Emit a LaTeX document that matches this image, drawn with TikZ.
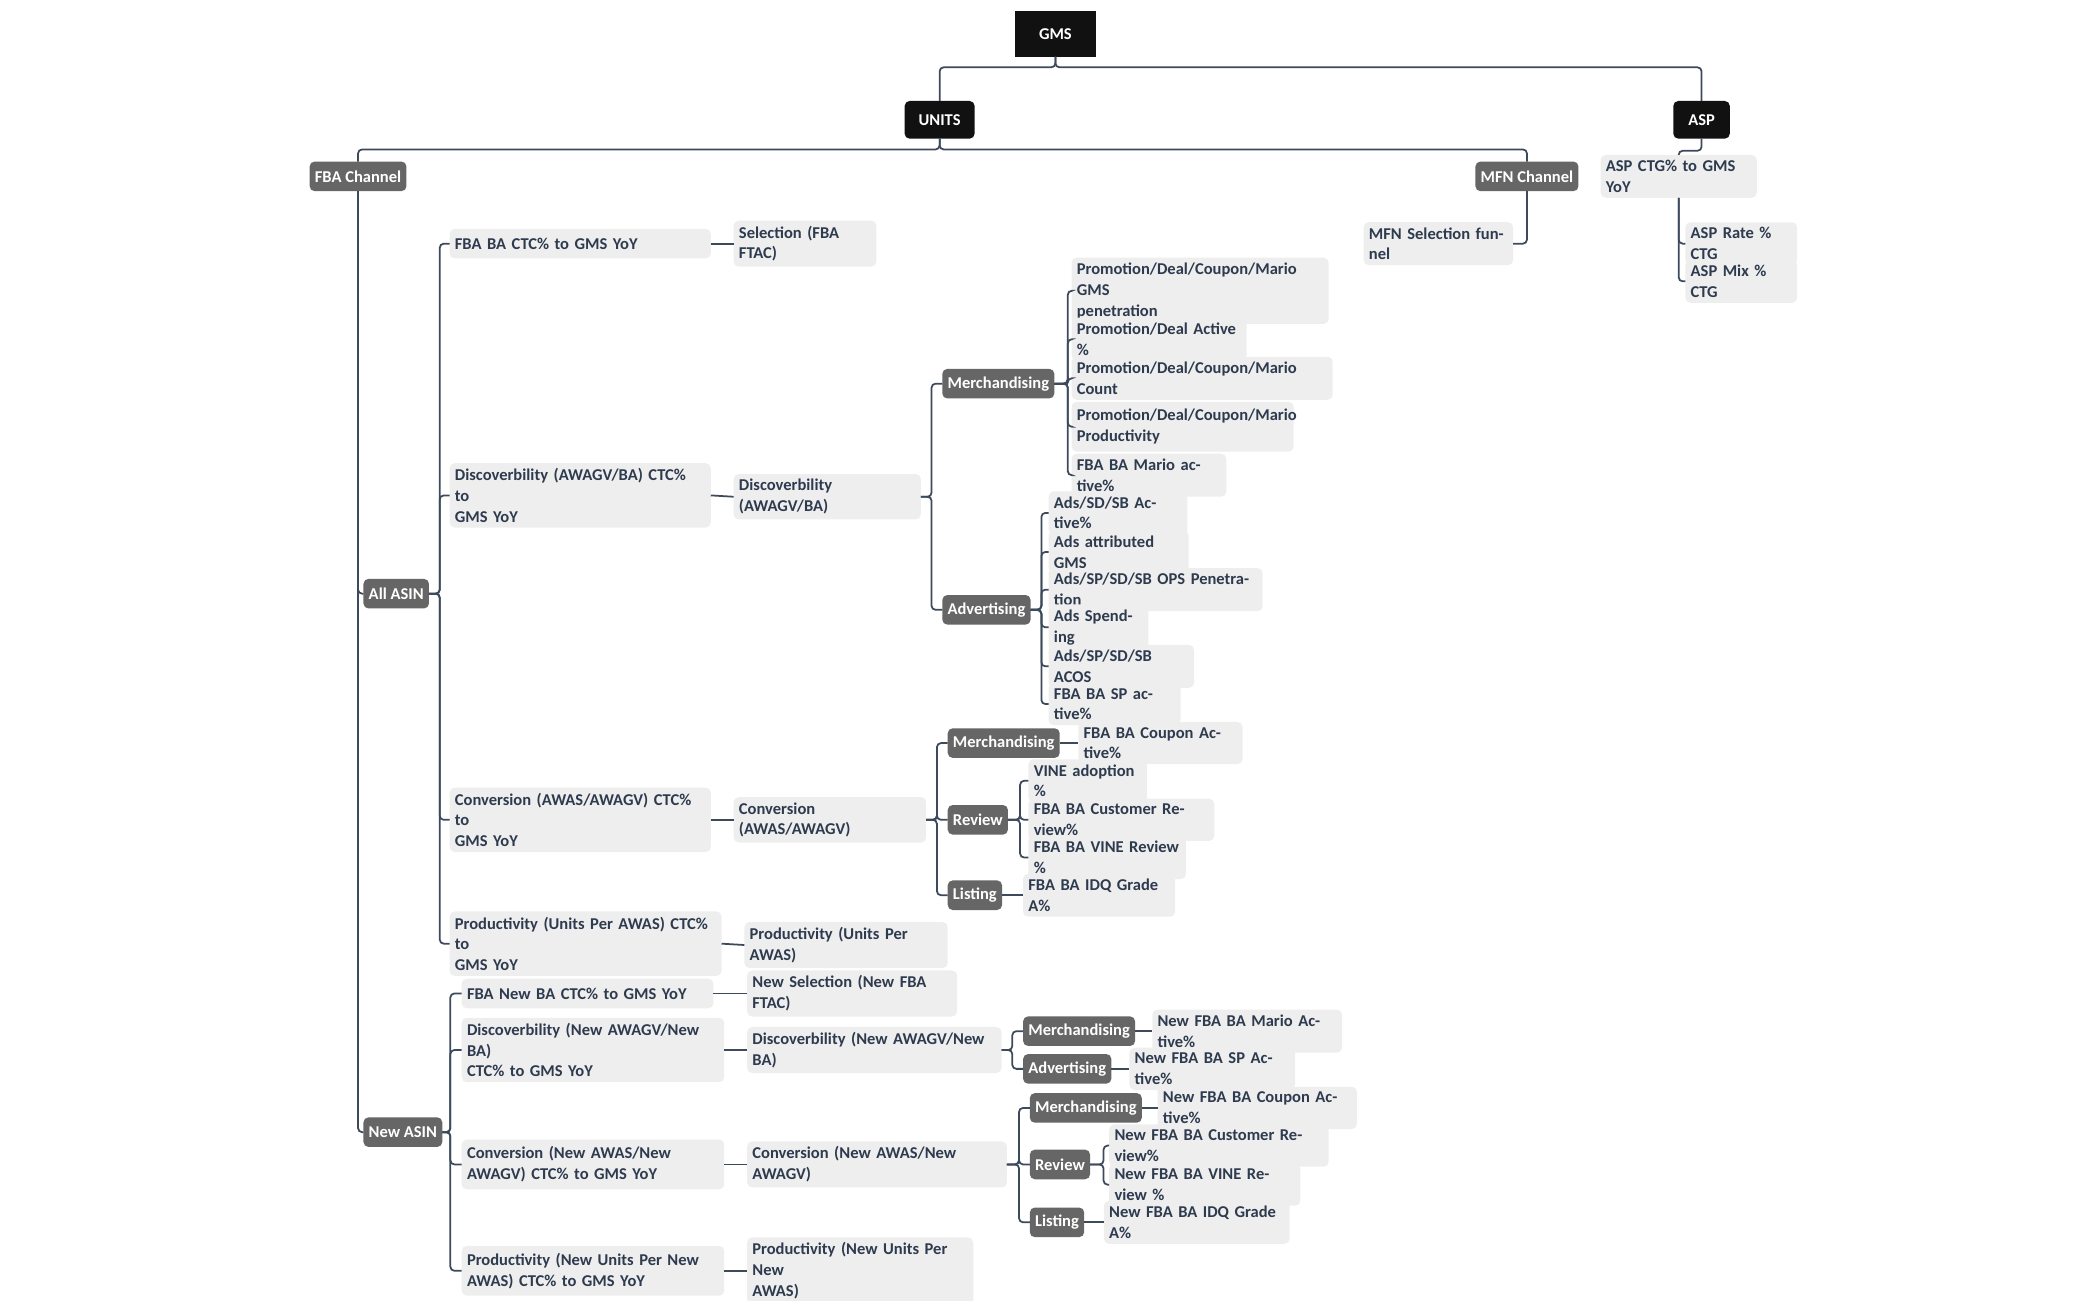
\documentclass[tikz,border=0pt]{standalone}
\usepackage{fontspec}
\setmainfont{Carlito}
\usetikzlibrary{positioning}
\definecolor{inkdark}{HTML}{111111}
\definecolor{inkmid}{HTML}{666666}
\definecolor{paper}{HTML}{EEEEEE}
\definecolor{txt}{HTML}{2E3B4E}
\definecolor{wire}{HTML}{3D4A5C}
\def\px{0.01346cm}
\tikzset{
  base/.style={inner sep=1.5pt, outer sep=0pt, font=\bfseries\fontsize{4.7}{5.9}\selectfont, minimum height=22*\px, anchor=west, align=left},
  root/.style={base, fill=inkdark, text=white, anchor=center},
  top/.style={root, rounded corners=0.05cm},
  mid/.style={base, fill=inkmid, text=white, rounded corners=0.05cm},
  leaf/.style={base, fill=paper, text=txt, rounded corners=0.05cm, text width=#1*\px-3pt},
  leaf/.default=100,
  link/.style={draw=wire, line width=0.5pt, rounded corners=0.04cm}
}
\begin{document}
\begin{tikzpicture}[x=\px, y=-\px]
  \useasboundingbox (0,0) rectangle (1560,966);

  % --- top levels ---
  \node[root, minimum width=60*\px, minimum height=34*\px] (gms) at (784,25) {GMS};
  \node[top, minimum width=52*\px, minimum height=28*\px] (units) at (698,89) {UNITS};
  \node[top, minimum width=42*\px, minimum height=28*\px] (asp) at (1264,89) {ASP};
  \draw[link] (gms.south) -- ++(0,8) -| (units.north);
  \draw[link] (gms.south) -- ++(0,8) -| (asp.north);

  \node[mid] (fba) at (230,131) {FBA Channel};
  \node[mid] (mfn) at (1096,131) {MFN Channel};
  \node[leaf=116] (aspctg) at (1189,131) {ASP CTG\% to GMS YoY};
  \draw[link] (units.south) -- ++(0,8) -| (fba.north);
  \draw[link] (units.south) -- ++(0,8) -| (mfn.north);
  \draw[link] (asp.south) -- ++(0,9) -| (aspctg.north);

  % --- ASP / MFN ---
  \node[leaf=83] (aspr) at (1252,181) {ASP Rate \% CTG};
  \node[leaf=83] (aspm) at (1252,209) {ASP Mix \% CTG};
  \foreach \c in {aspr,aspm} \draw[link] (aspctg.south) |- (\c.west);
  \node[leaf=111] (mfnsel) at (1013,181) {MFN Selection funnel};
  \draw[link] (mfn.south) |- (mfnsel.east);

  % --- FBA channel ---
  \node[mid] (all) at (270,441) {All ASIN};
  \node[mid] (new) at (270,841) {New ASIN};
  \foreach \c in {all,new} \draw[link] (fba.south) |- (\c.west);

  % All ASIN
  \node[leaf=194] (a1) at (334,181) {FBA BA CTC\% to GMS YoY};
  \node[leaf=194, minimum height=37*\px] (a2) at (334,368) {Discoverbility (AWAGV/BA) CTC\% to\\GMS YoY};
  \node[leaf=194, minimum height=37*\px] (a3) at (334,609) {Conversion (AWAS/AWAGV) CTC\% to\\GMS YoY};
  \node[leaf=202, minimum height=37*\px] (a4) at (334,701) {Productivity (Units Per AWAS) CTC\% to\\GMS YoY};
  \foreach \c in {a1,a2,a3,a4} \draw[link] (all.east) -- ++(8,0) |- (\c.west);

  \node[leaf=106] (s1) at (545,181) {Selection (FBA FTAC)};
  \node[leaf=139] (s2) at (545,369) {Discoverbility (AWAGV/BA)};
  \node[leaf=143] (s3) at (545,609) {Conversion (AWAS/AWAGV)};
  \node[leaf=151] (s4) at (553,702) {Productivity (Units Per AWAS)};
  \foreach \i in {1,2,3,4} \draw[link] (a\i.east) -- (s\i.west);

  % Discoverbility
  \node[mid] (dm) at (700,285) {Merchandising};
  \node[mid] (da) at (700,453) {Advertising};
  \foreach \c in {dm,da} \draw[link] (s2.east) -- ++(8,0) |- (\c.west);

  \node[leaf=191, minimum height=37*\px] (dm1) at (796,216) {Promotion/Deal/Coupon/Mario GMS\\penetration};
  \node[leaf=130] (dm2) at (796,252) {Promotion/Deal Active \%};
  \node[leaf=194] (dm3) at (796,281) {Promotion/Deal/Coupon/Mario Count};
  \node[leaf=165, minimum height=37*\px] (dm4) at (796,317) {Promotion/Deal/Coupon/Mario\\Productivity};
  \node[leaf=115] (dm5) at (796,353) {FBA BA Mario active\%};
  \foreach \c in {dm1,dm2,dm3,dm4,dm5} \draw[link] (dm.east) -- ++(10,0) |- (\c.west);

  \node[leaf=103] (da1) at (779,381) {Ads/SD/SB Active\%};
  \node[leaf=104] (da2) at (779,410) {Ads attributed GMS};
  \node[leaf=159] (da3) at (779,438) {Ads/SP/SD/SB OPS Penetration};
  \node[leaf=74] (da4) at (779,466) {Ads Spending};
  \node[leaf=108] (da5) at (779,495) {Ads/SP/SD/SB ACOS};
  \node[leaf=98] (da6) at (779,523) {FBA BA SP active\%};
  \foreach \c in {da1,da2,da3,da4,da5,da6} \draw[link] (da.east) -- ++(8,0) |- (\c.west);

  % Conversion
  \node[mid] (cm) at (704,552) {Merchandising};
  \node[mid] (cr) at (704,609) {Review};
  \node[mid] (cl) at (704,665) {Listing};
  \foreach \c in {cm,cr,cl} \draw[link] (s3.east) -- ++(8,0) |- (\c.west);
  \node[leaf=122] (cm1) at (801,552) {FBA BA Coupon Active\%};
  \draw[link] (cm.east) -- (cm1.west);
  \node[leaf=88] (cr1) at (764,580) {VINE adoption \%};
  \node[leaf=138] (cr2) at (764,609) {FBA BA Customer Review\%};
  \node[leaf=117] (cr3) at (764,637) {FBA BA VINE Review \%};
  \foreach \c in {cr1,cr2,cr3} \draw[link] (cr.east) -- ++(9,0) |- (\c.west);
  \node[leaf=113] (cl1) at (760,665) {FBA BA IDQ Grade A\%};
  \draw[link] (cl.east) -- (cl1.west);

  % New ASIN
  \node[leaf=187] (n1) at (343,738) {FBA New BA CTC\% to GMS YoY};
  \node[leaf=195, minimum height=37*\px] (n2) at (343,780) {Discoverbility (New AWAGV/New BA)\\CTC\% to GMS YoY};
  \node[leaf=195, minimum height=37*\px] (n3) at (343,865) {Conversion (New AWAS/New\\AWAGV) CTC\% to GMS YoY};
  \node[leaf=195, minimum height=37*\px] (n4) at (343,944) {Productivity (New Units Per New\\AWAS) CTC\% to GMS YoY};
  \foreach \c in {n1,n2,n3,n4} \draw[link] (new.east) -- ++(6,0) |- (\c.west);

  \node[leaf=156] (ns1) at (555,738) {New Selection (New FBA FTAC)};
  \node[leaf=189] (ns2) at (555,780) {Discoverbility (New AWAGV/New BA)};
  \node[leaf=193] (ns3) at (555,865) {Conversion (New AWAS/New AWAGV)};
  \node[leaf=168, minimum height=37*\px] (ns4) at (555,944) {Productivity (New Units Per New\\AWAS)};
  \foreach \i in {1,2,3,4} \draw[link] (n\i.east) -- (ns\i.west);

  \node[mid] (nm) at (760,766) {Merchandising};
  \node[mid] (na) at (760,794) {Advertising};
  \foreach \c in {nm,na} \draw[link] (ns2.east) -- ++(8,0) |- (\c.west);
  \node[leaf=141] (nm1) at (856,766) {New FBA BA Mario Active\%};
  \node[leaf=123] (na1) at (839,794) {New FBA BA SP Active\%};
  \draw[link] (nm.east) -- (nm1.west);
  \draw[link] (na.east) -- (na1.west);

  \node[mid] (ncm) at (765,823) {Merchandising};
  \node[mid] (ncr) at (765,865) {Review};
  \node[mid] (ncl) at (765,908) {Listing};
  \foreach \c in {ncm,ncr,ncl} \draw[link] (ns3.east) -- ++(9,0) |- (\c.west);
  \node[leaf=148] (ncm1) at (860,823) {New FBA BA Coupon Active\%};
  \draw[link] (ncm.east) -- (ncm1.west);
  \node[leaf=163] (ncr1) at (824,851) {New FBA BA Customer Review\%};
  \node[leaf=142] (ncr2) at (824,880) {New FBA BA VINE Review \%};
  \foreach \c in {ncr1,ncr2} \draw[link] (ncr.east) -- ++(10,0) |- (\c.west);
  \node[leaf=138] (ncl1) at (820,908) {New FBA BA IDQ Grade A\%};
  \draw[link] (ncl.east) -- (ncl1.west);
\end{tikzpicture}
\end{document}
